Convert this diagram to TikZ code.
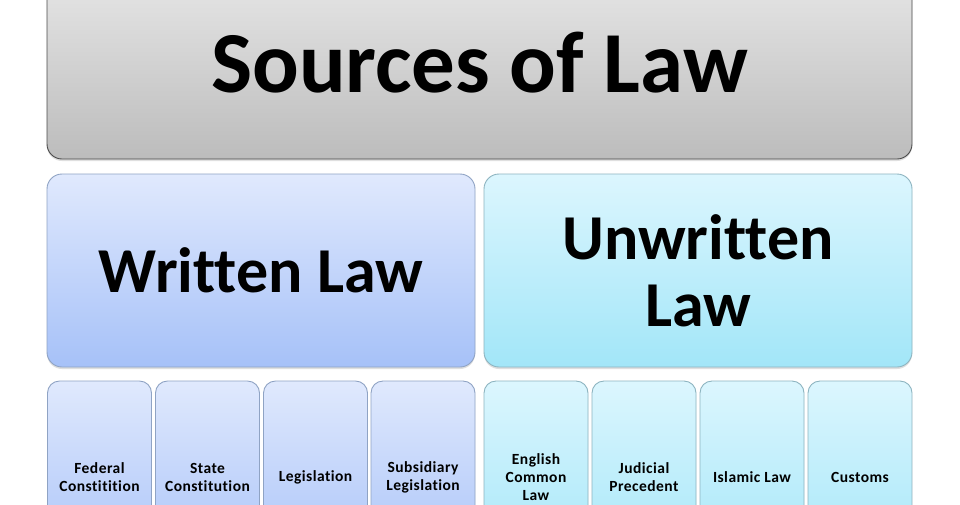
\documentclass[tikz,border=0pt]{standalone}
\usepackage{fontspec}
\setmainfont{Carlito}[Ligatures=NoCommon]
\newfontfamily\smallfont{Carlito}[Ligatures=NoCommon,LetterSpace=3]
\usetikzlibrary{shadows}
\definecolor{grayTop}{HTML}{E8E8E8}
\definecolor{grayBot}{HTML}{BCBCBC}
\definecolor{grayLine}{HTML}{4A4A4A}
\definecolor{wTop}{HTML}{E0E9FD}
\definecolor{wBot}{HTML}{A6C1F8}
\definecolor{wLine}{HTML}{8FA3C4}
\definecolor{uTop}{HTML}{DCF6FE}
\definecolor{uBot}{HTML}{A2E6F8}
\definecolor{uLine}{HTML}{8DB4C0}
\tikzset{
  box/.style={rectangle, rounded corners=15pt, inner sep=0pt, outer sep=0pt,
    line width=0.9pt, align=center, font=\bfseries,
    drop shadow={shadow xshift=0pt, shadow yshift=-2pt, opacity=0.25}},
  titlebox/.style={box, draw=grayLine, top color=grayTop, bottom color=grayBot,
    minimum width=865pt, minimum height=193pt, font=\fontsize{87}{90}\bfseries\selectfont},
  wbox/.style={box, draw=wLine, top color=wTop, bottom color=wBot,
    minimum width=428pt, minimum height=193pt, font=\fontsize{64}{67}\bfseries\selectfont},
  ubox/.style={box, draw=uLine, top color=uTop, bottom color=uBot,
    minimum width=428pt, minimum height=193pt, font=\fontsize{64}{67}\bfseries\selectfont},
  wsmall/.style={box, rounded corners=12pt, draw=wLine, top color=wTop, bottom color=wBot,
    minimum width=104pt, minimum height=193pt, font=\smallfont\fontsize{15.5}{18}\bfseries\selectfont},
  usmall/.style={box, rounded corners=12pt, draw=uLine, top color=uTop, bottom color=uBot,
    minimum width=104pt, minimum height=193pt, font=\smallfont\fontsize{15.5}{18}\bfseries\selectfont},
}
\begin{document}
\begin{tikzpicture}[x=1pt,y=-1pt]
\useasboundingbox (0,0) rectangle (960,504);
\clip (0,0) rectangle (960,504);
\fill[white] (0,0) rectangle (960,504);
\node[titlebox] (title) at (479.5,62.5) {Sources of Law};
\node[wbox] (written) at (261,270.5) {Written Law};
\node[ubox] (unwritten) at (698,270.5) {Unwritten\\Law};
\node[wsmall] (federal) at (99.5,477.5) {Federal\\Constitition};
\node[wsmall] (state) at (207.5,477.5) {State\\Constitution};
\node[wsmall] (legis) at (315.5,477.5) {Legislation};
\node[wsmall] (subsid) at (423,477.5) {Subsidiary\\Legislation};
\node[usmall] (english) at (536,477.5) {English\\Common\\Law};
\node[usmall] (judicial) at (644,477.5) {Judicial\\Precedent};
\node[usmall] (islamic) at (752,477.5) {Islamic Law};
\node[usmall] (customs) at (860,477.5) {Customs};
\end{tikzpicture}
\end{document}
